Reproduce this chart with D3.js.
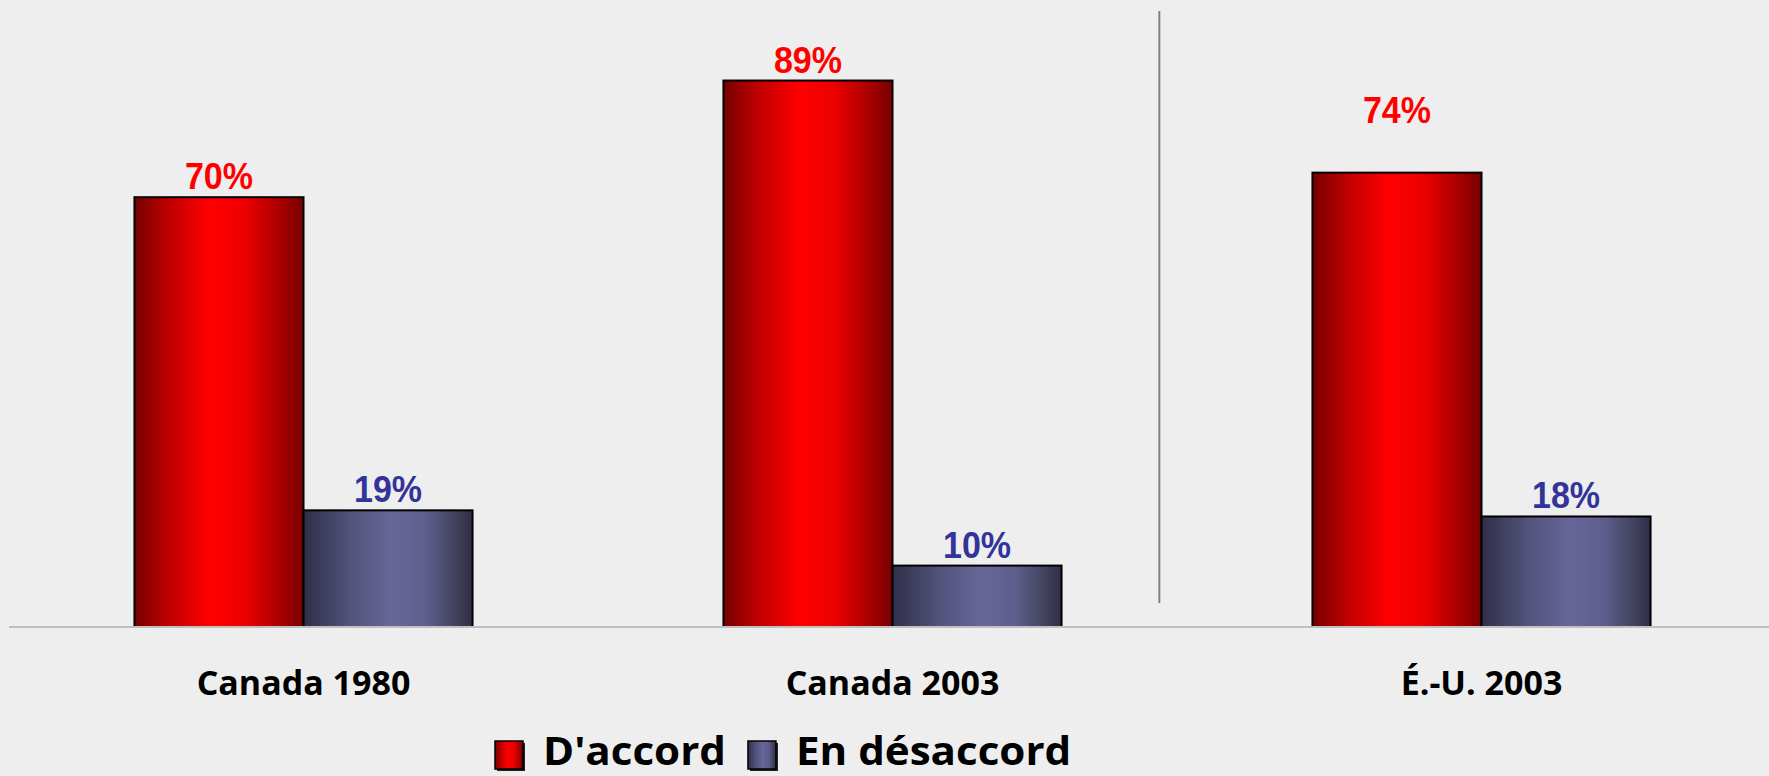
<!DOCTYPE html>
<html>
<head>
<meta charset="utf-8">
<script src="https://cdn.jsdelivr.net/npm/d3@7"></script>
<style>
  body { margin: 0; background: #eeeeee; }
  svg { display: block; }
</style>
</head>
<body>
<div class="chart"></div>
<script>
// data
var categories = ["Canada 1980", "Canada 2003", "É.-U. 2003"];
var series = ["D'accord", "En désaccord"];
var accord = [70, 89, 74];
var desaccord = [19, 10, 18];
var labels = [["70%", "19%"], ["89%", "10%"], ["74%", "18%"]];

var width = 1769, height = 776;
var baseY = 627;

var svg = d3.select(".chart")
    .append("svg")
    .attr("width", width)
    .attr("height", height);

svg.append("rect").attr("width", width).attr("height", height).attr("fill", "#eeeeee");

// gradients
var defs = svg.append("defs");
function grad(id, stops) {
  var g = defs.append("linearGradient").attr("id", id)
      .attr("x1", "0%").attr("x2", "100%").attr("y1", "0%").attr("y2", "0%");
  stops.forEach(function(s) {
    g.append("stop").attr("offset", s[0]).attr("stop-color", s[1]);
  });
}
grad("gRed", [["0%", "#760000"], ["22%", "#c40000"], ["45%", "#ff0000"], ["66%", "#ec0000"], ["86%", "#aa0000"], ["100%", "#780000"]]);
grad("gBlue", [["0%", "#2f2f48"], ["28%", "#53537c"], ["52%", "#666699"], ["72%", "#5f5f8e"], ["90%", "#42425e"], ["100%", "#2e2e46"]]);

var colors = ["url(#gRed)", "url(#gBlue)"];
var labelColors = ["#ff0000", "#333399"];

// scales
var x = d3.scaleBand()
    .domain(categories)
    .range([9, 1776])
    .paddingInner(0.426)
    .paddingOuter(0.213);
var xs = d3.scaleBand()
    .domain(series)
    .range([0, x.bandwidth()]);
var y = d3.scaleLinear()
    .domain([0, 100])
    .range([baseY, baseY - 614]);

var rows = categories.map(function(c, i) {
  return { cat: c, vals: [accord[i], desaccord[i]], labels: labels[i] };
});

// separator line before last group
var sepX = x(categories[2]) - x.step() * 0.26;
svg.append("line")
    .attr("x1", sepX).attr("x2", sepX)
    .attr("y1", 11).attr("y2", 603)
    .attr("stroke", "#808080")
    .attr("stroke-width", 2);

// bars
var groups = svg.selectAll(".grp")
    .data(rows)
    .enter().append("g")
    .attr("transform", function(d) { return "translate(" + x(d.cat) + ",0)"; });

groups.selectAll("rect")
    .data(function(d) { return d.vals.map(function(v, j) { return { s: series[j], v: v, j: j }; }); })
    .enter().append("rect")
    .attr("x", function(d) { return xs(d.s); })
    .attr("y", function(d) { return y(d.v); })
    .attr("width", xs.bandwidth())
    .attr("height", function(d) { return baseY - y(d.v); })
    .attr("fill", function(d) { return colors[d.j]; })
    .attr("stroke", "#000")
    .attr("stroke-width", 2);

// value labels (the US agree label sits higher in the original)
groups.each(function(d, i) {
  var g = d3.select(this);
  d.vals.forEach(function(v, j) {
    var lift = (i === 2 && j === 0) ? 50 : 8;
    g.append("text")
        .attr("transform", "translate(" + (xs(series[j]) + xs.bandwidth() / 2) + "," + (y(v) - lift) + ") scale(0.92,1)")
        .attr("text-anchor", "middle")
        .style("font-family", "'Liberation Sans', Arial, sans-serif")
        .style("font-weight", "bold")
        .style("font-size", "37px")
        .style("fill", labelColors[j])
        .text(d.labels[j]);
  });
});

// axis line
svg.append("line")
    .attr("x1", 9).attr("x2", width)
    .attr("y1", baseY).attr("y2", baseY)
    .attr("stroke", "#c0c0c0")
    .attr("stroke-width", 2);

// category labels
svg.selectAll(".cat")
    .data(categories)
    .enter().append("text")
    .attr("x", function(d) { return x(d) + x.bandwidth() / 2; })
    .attr("y", 695)
    .attr("text-anchor", "middle")
    .style("font-family", "'Open Sans', sans-serif")
    .style("font-weight", "bold")
    .style("font-size", "34px")
    .style("fill", "#000")
    .text(function(d) { return d; });

// legend
var lx = 495;
series.forEach(function(s, j) {
  svg.append("rect")
      .attr("x", lx + 2).attr("y", 743).attr("width", 28).attr("height", 28)
      .attr("fill", "#222");
  svg.append("rect")
      .attr("x", lx).attr("y", 741).attr("width", 28).attr("height", 28)
      .attr("fill", colors[j])
      .attr("stroke", "#000")
      .attr("stroke-width", 1.5);
  var t = svg.append("text")
      .attr("transform", "translate(" + (lx + 48) + ",765) scale(1.08,1)")
      .style("font-family", "'Open Sans', sans-serif")
      .style("font-weight", "bold")
      .style("font-size", "39px")
      .style("fill", "#000")
      .text(s);
  lx = lx + 48 + t.node().getComputedTextLength() * 1.08 + 22;
});
</script>
</body>
</html>
